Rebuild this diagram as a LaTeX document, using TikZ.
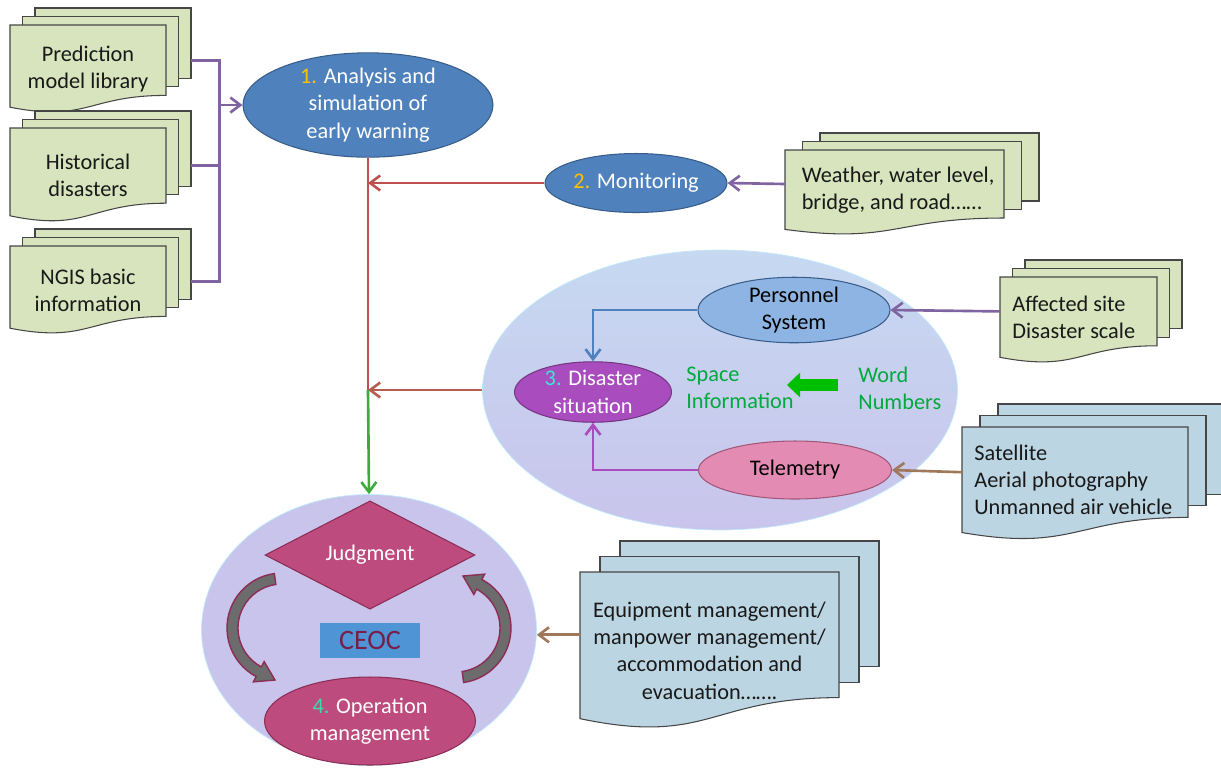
\documentclass[tikz,border=0pt]{standalone}
\usepackage{fontspec}
\setmainfont{Carlito}
\usetikzlibrary{arrows.meta,shapes.geometric}

\definecolor{docgreen}{RGB}{215,228,189}
\definecolor{docblue}{RGB}{188,213,226}
\definecolor{pageline}{RGB}{70,70,70}
\definecolor{lineviolet}{RGB}{128,100,162}
\definecolor{linered}{RGB}{192,80,77}
\definecolor{linebrown}{RGB}{160,120,90}
\definecolor{linegreen}{RGB}{60,170,60}
\definecolor{stageblue}{RGB}{79,129,189}
\definecolor{stageborder}{RGB}{56,93,138}
\definecolor{persblue}{RGB}{142,180,227}
\definecolor{sitpurple}{RGB}{168,76,190}
\definecolor{telpink}{RGB}{228,139,179}
\definecolor{opmagenta}{RGB}{190,75,126}
\definecolor{opborder}{RGB}{140,45,85}
\definecolor{zoneblue}{RGB}{198,217,241}
\definecolor{zonelilac}{RGB}{201,196,236}
\definecolor{ceocblue}{RGB}{79,148,212}
\definecolor{ceoctext}{RGB}{120,30,75}
\definecolor{infogreen}{RGB}{0,170,60}
\definecolor{arrowgreen}{RGB}{0,190,0}
\definecolor{numorange}{RGB}{255,192,0}
\definecolor{numcyan}{RGB}{60,230,215}
\definecolor{numteal}{RGB}{60,220,170}
\definecolor{bendgray}{RGB}{108,108,108}

% stack of three pages: name, left, top, width, height, dx, dy, fill
\newcommand{\docstack}[8]{%
  \foreach \k in {2,1}
    \filldraw[page, fill=#8] ({#2+\k*#6},{#3-\k*#7}) rectangle ++(#4,{0.8*#5});
  \filldraw[page, fill=#8] (#2,#3) -- ++(#4,0) -- ++(0,{0.8*#5})
    .. controls ({#2+0.5*#4},{#3+0.8*#5}) and ({#2+0.5*#4},{#3+1.107*#5}) .. (#2,{#3+0.934*#5}) -- cycle;
  \coordinate (#1) at ({#2+0.5*#4},{#3+0.5*#5});
  \coordinate (#1 in) at (#2,{#3+0.4*#5});
  \coordinate (#1 out) at ({#2+#4+2*#6},{#3+0.4*#5});
}

\begin{document}
\begin{tikzpicture}[x=0.02cm, y=-0.02cm,
  font=\fontsize{12.7}{15.5}\selectfont,
  >={Straight Barb[length=2mm,width=3mm]},
  page/.style={draw=pageline, line width=0.6pt},
  doctext/.style={align=center, inner sep=0pt, text=black!90},
  stage/.style={ellipse, draw=stageborder, line width=0.6pt, fill=stageblue, text=white, align=center, inner sep=0pt},
  zone/.style={ellipse, draw=cyan!25, line width=0.4pt},
  link/.style={line width=1.5pt},
  bend/.pic={\filldraw[fill=bendgray, draw=opborder, line width=0.8pt]
    (262:55) arc[start angle=262, end angle=118, radius=55] -- (118:61) -- (-7,52)
    -- (118:38) -- (118:44) arc[start angle=118, end angle=262, radius=44] -- cycle;}]

\useasboundingbox (0,0) rectangle (1221,769);

% the two large zones
\node[zone, minimum width=9.5cm, minimum height=5.6cm, top color=zoneblue, bottom color=zonelilac] (zone3) at (720,390) {};
\node[zone, minimum width=6.7cm, minimum height=5.42cm, fill=zonelilac] (zone4) at (369,630) {};

% documents
\docstack{pred}{10}{25}{156}{88}{12.5}{8.5}{docgreen}
\docstack{hist}{10}{128}{156}{94}{12.5}{8.5}{docgreen}
\docstack{ngis}{10}{246}{156}{88}{12.5}{8.5}{docgreen}
\docstack{wea}{785}{150}{219}{85}{17.5}{8.5}{docgreen}
\docstack{aff}{1000}{277}{157}{86}{12.5}{8.5}{docgreen}
\docstack{sat}{962}{427}{226}{113}{18}{11.5}{docblue}
\docstack{equ}{580}{572}{259}{157}{20}{15.5}{docblue}

\node[doctext] (predtext) at (pred) {Prediction\\model library};
\node[doctext] (histtext) at (hist) {Historical\\disasters};
\node[doctext] (ngistext) at (ngis) {NGIS basic\\information};
\node[doctext, align=left] (weatext) at (898,190) {Weather, water level,\\bridge, and road\dots\dots};
\node[doctext, align=left, anchor=west] (afftext) at (1012,317) {Affected site\\Disaster scale};
\node[doctext, align=left, anchor=west] (sattext) at (974,480) {Satellite\\Aerial photography\\Unmanned air vehicle};
\node[doctext] (equtext) at (equ) {Equipment management/\\manpower management/\\accommodation and\\evacuation\dots\dots.};

% stages
\node[stage, minimum width=5cm, minimum height=1.92cm] (warn) at (368,105) {\textcolor{numorange}{1.} Analysis and\\simulation of\\early warning};
\node[stage, minimum width=3.64cm, minimum height=1.18cm] (mon) at (636,183) {\textcolor{numorange}{2.} Monitoring};

\node[stage, fill=persblue, text=black] (pers) [minimum width=3.84cm, minimum height=1.16cm] at (794,310) {Personnel\\System};
\node[stage, fill=sitpurple, draw=sitpurple!70!black] (sit) [minimum width=3.14cm, minimum height=1.18cm] at (593,392) {\textcolor{numcyan}{3.} Disaster\\situation};
\node[stage, fill=telpink, draw=opborder!80, text=black] (tel) [minimum width=3.86cm, minimum height=1.16cm] at (795,470) {Telemetry};

\node[align=left, anchor=west, inner sep=0pt, text=infogreen] (space) at (686,388) {Space\\Information};
\node[align=left, anchor=west, inner sep=0pt, text=infogreen] (word) at (858,388) {Word\\Numbers};
\coordinate (gtail) at ([shift={(-20,-3)}]word.west);
\coordinate (ghead) at ([shift={(-71,-3)}]word.west);
\draw[line width=0.24cm, arrowgreen, -{Triangle[length=0.26cm,width=0.48cm]}] (gtail) -- (ghead);

% operation centre
\node[diamond, fill=opmagenta, draw=opborder, line width=0.6pt, minimum width=4.2cm, minimum height=2.08cm, inner sep=0pt, text=white] (judge) at (370,555) {Judgment};
\node[fill=ceocblue, minimum width=2cm, minimum height=0.7cm, inner sep=0pt, text=ceoctext, font=\fontsize{16}{19}\selectfont] (ceoc) at (370,640) {CEOC};
\node[stage, fill=opmagenta, draw=opborder, minimum width=4.22cm, minimum height=1.76cm] (oper) at (370,721) {\textcolor{numteal}{4.} Operation\\management};
\pic at (282,628) {bend};
\pic[rotate=180] at (456,628) {bend};

% connectors
\coordinate (bus) at ([xshift=-0.46cm]warn.west);
\draw[link, lineviolet] (pred out) -| (bus);
\draw[link, lineviolet] (hist out) -| (bus);
\draw[link, lineviolet] (ngis out) -| (bus);
\draw[link, lineviolet, ->] (bus) -- (warn.west);

\coordinate (jmon) at (warn.south |- mon.west);
\coordinate (jsit) at (warn.south |- zone3.west);
\draw[link, linered] (warn.south) -- (jsit);
\draw[link, linered, ->] (mon.west) -- (jmon);
\draw[link, linered!70!linebrown, ->] (zone3.west) -- (jsit);
\draw[link, linegreen, ->] (jsit) -- (zone4.north);

\draw[link, lineviolet, ->] (wea in) -- (mon.east);
\draw[link, lineviolet, ->] (aff in) -- (pers.east);
\draw[link, linebrown, ->] (sat in) -- (tel.east);
\draw[link, linebrown, ->] (equ in) -- (equ in -| zone4.east);

\draw[link, stageblue, ->] (pers.west) -| (sit.north);
\draw[link, sitpurple, ->] (tel.west) -| (sit.south);

\end{tikzpicture}
\end{document}
